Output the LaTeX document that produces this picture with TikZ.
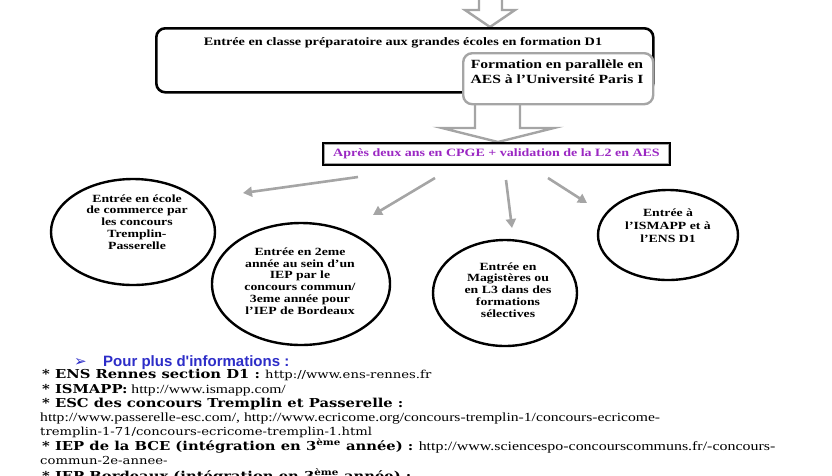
\documentclass[tikz,border=0pt]{standalone}
\usepackage{fontspec}
\setmainfont{Liberation Serif}[FakeStretch=1.25]
\newfontfamily\camfont{DejaVu Serif}[FakeStretch=1.2]
\newfontfamily\arialfont{Liberation Sans}
\newfontfamily\dingfont{DejaVu Sans}
\newcommand\infobold{\camfont\bfseries\fontsize{12.3}{14}\selectfont}
\newcommand\infocam{\camfont\fontsize{11}{14}\selectfont}
\usetikzlibrary{shapes.geometric,arrows.meta,calc}
\definecolor{cpgeviolet}{RGB}{155,40,195}
\definecolor{infoblue}{RGB}{45,45,200}
\definecolor{flowgray}{RGB}{165,165,165}
\tikzset{
  boxtext/.style={inner sep=0pt, align=center, font=\bfseries\fontsize{11.4}{13}\selectfont},
  ovaltext/.style={inner sep=0pt, align=center, font=\bfseries\fontsize{11}{11.8}\selectfont},
  oval/.style={ellipse, draw=black, line width=2.4pt, inner sep=0pt},
  sidearrow/.style={draw=flowgray, line width=2.6pt, -{Triangle[length=9pt,width=10pt]}},
  hollowarrow/.style={draw=flowgray, line width=2.4pt, fill=white},
  infoline/.style={anchor=base west, inner sep=0pt, font=\fontsize{12.5}{14}\selectfont},
}

\begin{document}
\begin{tikzpicture}[x=1pt,y=-1pt]
  \useasboundingbox (0,0) rectangle (832,475);
  % arrow coming from above
  \filldraw[hollowarrow] (479,-10) -- (479,10) -- (465,10) -- (490,27) -- (515,10) -- (502,10) -- (502,-10);
  % CPGE box
  \node[draw=black, line width=2.6pt, rounded corners=9pt, minimum width=497pt, minimum height=64pt, anchor=north west] (classeprepa) at (155,27) {};
  \node[boxtext] (classeprepatext) at (403,43) {Entrée en classe préparatoire aux grandes écoles en formation D1};
  \filldraw[hollowarrow] (475,103) -- (475,128) -- (442,128) -- (498,142) -- (554,128) -- (520,128) -- (520,103);
  \node[draw=flowgray, line width=2.4pt, fill=white, rounded corners=9pt, minimum width=190pt, minimum height=51pt, anchor=north west] (aes) at (462,52) {};
  \node[boxtext, font=\bfseries\fontsize{12.5}{15}\selectfont] (aestext) at (557,72) {Formation en parallèle en\\AES à l’Université Paris I};
  % after two years
  \node[boxtext, draw=black, line width=2.4pt, minimum width=347pt, minimum height=22pt, text=cpgeviolet, font=\bfseries\fontsize{11.2}{13}\selectfont] (deuxans) at (496.5,154) {Après deux ans en CPGE + validation de la L2 en AES};
  \draw[flowgray, line width=0.8pt] ([shift={(2.6,2.6)}]deuxans.north west) rectangle ([shift={(-2.6,-2.6)}]deuxans.south east);
  % the four ways out
  \foreach \i/\sx/\sy/\ex/\ey in {1/358/177/243/193, 2/435/178/373/215, 3/506/180/512/228, 4/548/178/587/203} {
    \coordinate (from\i) at (\sx,\sy);
    \coordinate (to\i) at (\ex,\ey);
    \draw[sidearrow] (from\i) -- (to\i);
  }
  \node[oval, minimum width=164pt, minimum height=106pt] (commerce) at (133,232) {};
  \node[ovaltext] (commercetext) at (137,222) {Entrée en école\\de commerce par\\les concours\\Tremplin-\\Passerelle};
  \node[oval, minimum width=178pt, minimum height=122pt] (iep) at (301,284) {};
  \node[ovaltext] (ieptext) at (300,281) {Entrée en 2eme\\année au sein d’un\\IEP par le\\concours commun/\\3eme année pour\\l’IEP de Bordeaux};
  \node[oval, minimum width=144pt, minimum height=106pt] (magistere) at (505,293) {};
  \node[ovaltext] (magisteretext) at (508,290) {Entrée en\\Magistères ou\\en L3 dans des\\formations\\sélectives};
  \node[oval, minimum width=140pt, minimum height=90pt] (ismapp) at (668,235) {};
  \node[ovaltext, font=\bfseries\fontsize{11}{13}\selectfont] (ismapptext) at (668,226) {Entrée à\\l’ISMAPP et à\\l’ENS D1};
  % more information
  \node[infoline, text=infoblue, text depth=0pt, text height=8pt, font=\dingfont\fontsize{15}{15}\selectfont] (infobullet) at (74,366) {➢};
  \node[infoline, text=infoblue, font=\arialfont\bfseries\fontsize{15}{16}\selectfont] (infotitle) at (103,366) {Pour plus d'informations :};
  \node[infoline] (ensline) at (42,378) {{\infobold * ENS Rennes section D1 :} {\infocam http://www.ens-rennes.fr}};
  \node[infoline] (ismappline) at (42,393) {{\infobold * ISMAPP:} http://www.ismapp.com/};
  \node[infoline] (escline) at (42,407) {{\infobold * ESC des concours Tremplin et Passerelle :}};
  \node[infoline] (escurl) at (40,421) {http://www.passerelle-esc.com/, http://www.ecricome.org/concours-tremplin-1/concours-ecricome-};
  \node[infoline] (escurlbis) at (40,435) {\infocam tremplin-1-71/concours-ecricome-tremplin-1.html};
  \node[infoline, font=\fontsize{12.75}{14}\selectfont] (bceline) at (42,450) {{\infobold * IEP de la BCE (intégration en 3\textsuperscript{ème} année) :} http://www.sciencespo-concourscommuns.fr/-concours-};
  \node[infoline] (bceurl) at (40,464) {\infocam commun-2e-annee-};
  \node[infoline] (bordeauxline) at (42,480) {{\infobold * IEP Bordeaux (intégration en 3\textsuperscript{ème} année) :}};
\end{tikzpicture}
\end{document}
